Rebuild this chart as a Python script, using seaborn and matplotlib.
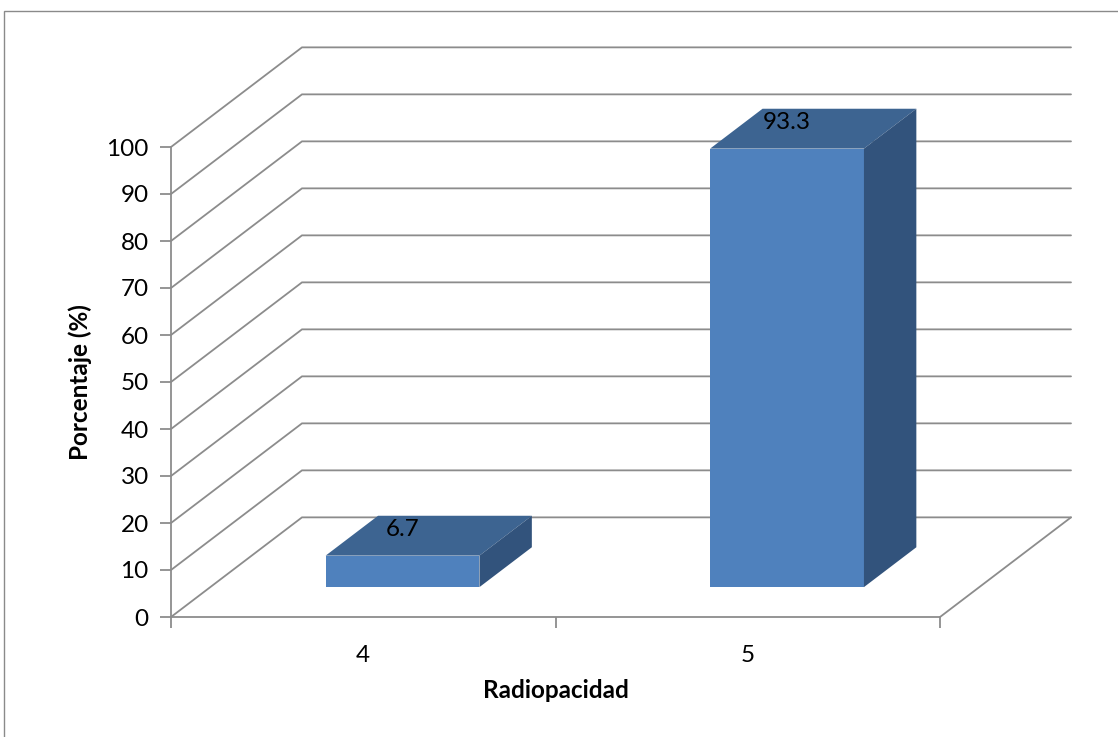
import matplotlib
matplotlib.use("Agg")
import matplotlib.pyplot as plt
from matplotlib.patches import Polygon, Rectangle
from matplotlib.transforms import Affine2D
import seaborn as sns

# Data
categories = ["4", "5"]
percent = [6.7, 93.3]
y_ticks = [0, 10, 20, 30, 40, 50, 60, 70, 80, 90, 100]
x_title = "Radiopacidad"
y_title = "Porcentaje (%)"

sns.set_theme(style="white")
plt.rcParams["font.family"] = ["Lato", "DejaVu Sans"]

FRONT = "#4F81BD"
TOP = "#3D6491"
SIDE = "#32537C"
GRID = "#8C8C8C"
FS = 17.5

W, H, DPI = 1118, 737, 100
fig = plt.figure(figsize=(W / DPI, H / DPI), dpi=DPI)
fig.patch.set_facecolor("white")

# chart border
fig.add_artist(Rectangle((4 / W, -0.01), 1.2, (H - 11) / H + 0.01,
                         transform=fig.transFigure, fill=False,
                         edgecolor="#8A8A8A", linewidth=1.0))

ax = fig.add_axes([171 / W, 120 / H, 769 / W, 470 / H])
ax.set_facecolor("none")
ax.set_xlim(-0.5, 1.5)
ax.set_ylim(0, 100)

# depth of the 3D box, in data units
DX, DY = 0.3407, 21.2
x_lo, x_hi = -0.5, 1.5

# back wall gridlines with the diagonal on the side wall
for v in y_ticks:
    ax.plot([x_lo, x_lo + DX, x_hi + DX], [v, v + DY, v + DY],
            color=GRID, lw=1.3, clip_on=False, zorder=1,
            solid_joinstyle="miter")
# floor right edge
ax.plot([x_hi, x_hi + DX], [0, DY], color=GRID, lw=1.3, clip_on=False, zorder=1)

# front faces of the bars
sns.barplot(x=categories, y=percent, width=0.4, color=FRONT, saturation=1,
            linewidth=0, ax=ax, zorder=3)

d0, d1 = 0.3, 0.4  # bar front depth and bar thickness (fractions of DX/DY)
shift = Affine2D().translate(d0 * DX, d0 * DY)
for patch, val in zip(ax.patches, percent):
    patch.set_transform(shift + ax.transData)
    patch.set_clip_on(False)
    x0 = patch.get_x() + d0 * DX
    w = patch.get_width()
    h = patch.get_height()
    b = d0 * DY
    ddx, ddy = d1 * DX, d1 * DY
    top = Polygon([(x0, b + h), (x0 + w, b + h), (x0 + w + ddx, b + h + ddy),
                   (x0 + ddx, b + h + ddy)], closed=True, facecolor=TOP,
                  edgecolor="none", clip_on=False, zorder=3)
    side = Polygon([(x0 + w, b), (x0 + w, b + h), (x0 + w + ddx, b + h + ddy),
                    (x0 + w + ddx, b + ddy)], closed=True, facecolor=SIDE,
                   edgecolor="none", clip_on=False, zorder=3)
    ax.add_patch(top)
    ax.add_patch(side)
    ax.text(x0 + w / 2, b + h + 0.26 * DY, f"{val}", ha="center", va="center",
            fontsize=FS, color="black", zorder=4, clip_on=False)

# axes styling
for s in ("top", "right"):
    ax.spines[s].set_visible(False)
for s in ("left", "bottom"):
    ax.spines[s].set_color(GRID)
    ax.spines[s].set_linewidth(1.3)

ax.set_yticks(y_ticks)
ax.set_yticklabels([str(v) for v in y_ticks])
ax.tick_params(axis="y", which="major", direction="out", length=8, width=1.3,
               color=GRID, labelsize=FS, labelcolor="black", pad=8, left=True)

ax.set_xticks([0, 1])
ax.set_xticklabels(categories)
ax.set_xticks([-0.5, 0.5, 1.5], minor=True)
ax.tick_params(axis="x", which="major", length=0, labelsize=FS,
               labelcolor="black", pad=20)
ax.tick_params(axis="x", which="minor", direction="out", length=8, width=1.3,
               color=GRID, bottom=True)

ax.set_xlabel(x_title, fontsize=FS, fontweight="bold", color="black")
ax.set_ylabel(y_title, fontsize=FS, fontweight="bold", color="black")
ax.xaxis.set_label_coords(0.5, (617 - 690) / 470)
ax.xaxis.label.set_va("center")
ax.yaxis.set_label_coords((80 - 171) / 769, 0.5)
ax.yaxis.label.set_va("center")

fig.savefig("out.png", dpi=DPI, facecolor="white")
